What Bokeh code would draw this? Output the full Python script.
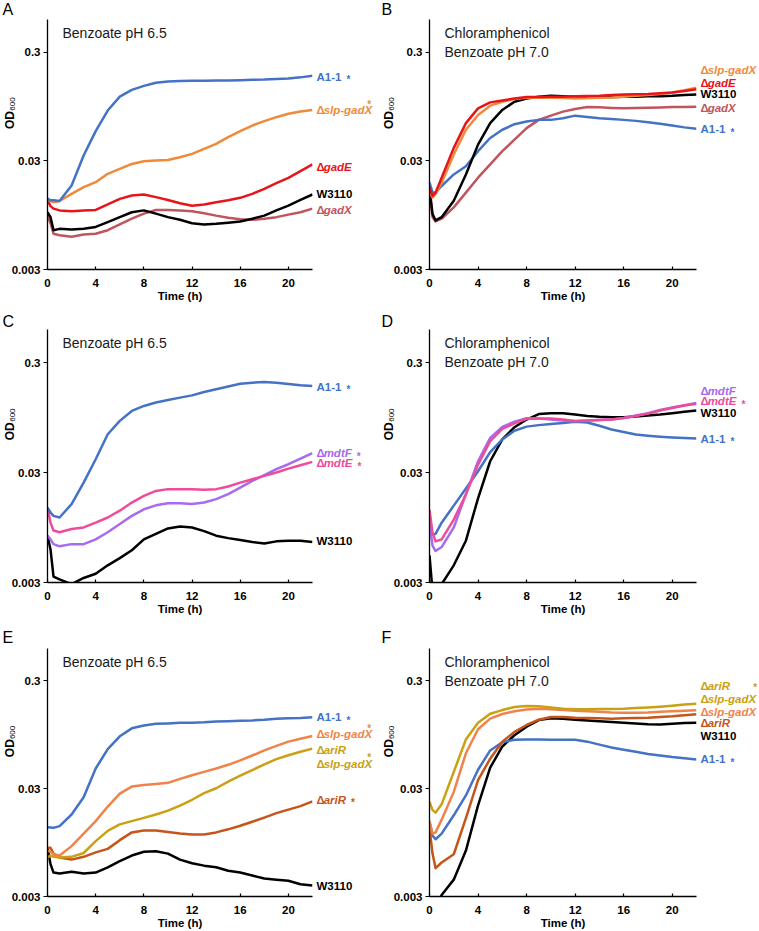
import math
from bokeh.plotting import figure
from bokeh.layouts import gridplot
from bokeh.models import FixedTicker, CustomJSTickFormatter, Range1d
from bokeh.core.properties import value
from bokeh.embed import file_html
from bokeh.resources import INLINE

# ---------------- data (OD600 vs time, h) ----------------
HOURS = [0, 0.25, 0.5, 1, 2, 3, 4, 5, 6, 7, 8, 9, 10, 11, 12, 13, 14, 15, 16, 17, 18, 19, 20, 21, 22]

# Panel A: Benzoate pH 6.5
A_A11 = [0.0135, 0.013, 0.013, 0.0128, 0.0178, 0.0336, 0.0563, 0.0872, 0.117, 0.135, 0.147, 0.157, 0.161,
         0.163, 0.164, 0.164, 0.165, 0.165, 0.166, 0.167, 0.168, 0.170, 0.172, 0.176, 0.182]
A_SLP = [0.0131, 0.0128, 0.0125, 0.0128, 0.0149, 0.0172, 0.0191, 0.0228, 0.0253, 0.0281, 0.0298, 0.0302, 0.0306,
         0.0324, 0.0348, 0.0387, 0.043, 0.0496, 0.0563, 0.0634, 0.0696, 0.0757, 0.0813, 0.0853, 0.0883]
A_GADE = [0.0131, 0.0115, 0.0109, 0.0105, 0.0103, 0.0105, 0.0106, 0.0119, 0.0134, 0.0144, 0.0147, 0.0139, 0.0131,
          0.0122, 0.0116, 0.0119, 0.0125, 0.0130, 0.0137, 0.0149, 0.0166, 0.0187, 0.0209, 0.0241, 0.0278]
A_W3110 = [0.0101, 0.0091, 0.0069, 0.0071, 0.0070, 0.0071, 0.0074, 0.0082, 0.0091, 0.0101, 0.0105, 0.0098, 0.0091,
           0.0086, 0.0080, 0.0078, 0.0079, 0.0081, 0.0083, 0.0088, 0.0094, 0.0105, 0.0116, 0.0131, 0.0147]
A_GADX = [0.0094, 0.0080, 0.0064, 0.0062, 0.0060, 0.0063, 0.0064, 0.0069, 0.0078, 0.0088, 0.0098, 0.0106, 0.0106,
          0.0105, 0.0103, 0.0099, 0.0094, 0.0090, 0.0087, 0.0086, 0.0088, 0.0091, 0.0096, 0.0101, 0.0109]

# Panel B: Chloramphenicol, Benzoate pH 7.0
B_SLP = [0.0153, 0.0138, 0.0148, 0.0189, 0.0343, 0.058, 0.0793, 0.0966, 0.105, 0.111, 0.1143, 0.1143, 0.1143,
         0.1135, 0.1125, 0.113, 0.1143, 0.115, 0.1167, 0.119, 0.121, 0.124, 0.128, 0.134, 0.141]
B_GADE = [0.0170, 0.0143, 0.0153, 0.021, 0.0395, 0.0667, 0.0913, 0.1036, 0.108, 0.1125, 0.1159, 0.1163, 0.1167,
          0.117, 0.118, 0.1185, 0.119, 0.121, 0.1225, 0.123, 0.124, 0.126, 0.128, 0.132, 0.137]
B_W3110 = [0.0170, 0.0097, 0.0085, 0.0091, 0.0129, 0.0225, 0.0423, 0.0667, 0.0882, 0.105, 0.1125, 0.1167, 0.119,
           0.118, 0.1167, 0.116, 0.1159, 0.116, 0.1167, 0.117, 0.1177, 0.118, 0.119, 0.121, 0.1225]
B_GADX = [0.0159, 0.0091, 0.0083, 0.0088, 0.0112, 0.0153, 0.021, 0.0278, 0.0368, 0.047, 0.060, 0.0715, 0.0782,
          0.0852, 0.090, 0.0939, 0.0932, 0.092, 0.0913, 0.092, 0.0926, 0.093, 0.0939, 0.094, 0.0945]
B_A11 = [0.0189, 0.0153, 0.0153, 0.0176, 0.0225, 0.0268, 0.0368, 0.0487, 0.058, 0.0652, 0.069, 0.0715, 0.0715,
         0.074, 0.0782, 0.076, 0.074, 0.0728, 0.0715, 0.070, 0.068, 0.066, 0.0634, 0.061, 0.0592]

# Panel C: Benzoate pH 6.5
C_A11 = [0.0144, 0.013, 0.0121, 0.0117, 0.0155, 0.0243, 0.0396, 0.0669, 0.0885, 0.109, 0.121, 0.130, 0.137,
         0.144, 0.151, 0.162, 0.172, 0.182, 0.193, 0.197, 0.200, 0.197, 0.192, 0.187, 0.184]
C_MDTF = [0.0080, 0.0074, 0.0067, 0.0064, 0.0067, 0.0067, 0.0074, 0.0086, 0.0102, 0.0121, 0.0139, 0.0151, 0.0158,
          0.0158, 0.0155, 0.016, 0.0172, 0.0191, 0.0219, 0.0252, 0.0284, 0.0322, 0.0357, 0.0402, 0.045]
C_MDTE = [0.0144, 0.0105, 0.0089, 0.0086, 0.0092, 0.0095, 0.0105, 0.0117, 0.0135, 0.016, 0.0184, 0.0204, 0.0212,
          0.0212, 0.0212, 0.0209, 0.0212, 0.0224, 0.0243, 0.0261, 0.028, 0.030, 0.0326, 0.035, 0.0375]
C_W3110 = [0.0080, 0.0060, 0.0034, 0.0032, 0.0029, 0.0033, 0.0036, 0.0043, 0.0050, 0.0059, 0.0074, 0.0083, 0.0093,
           0.0097, 0.0095, 0.0088, 0.0080, 0.0076, 0.0073, 0.0070, 0.0068, 0.0071, 0.0072, 0.0072, 0.0070]

# Panel D: Chloramphenicol, Benzoate pH 7.0
D_A11 = [0.0090, 0.0082, 0.0083, 0.0105, 0.0150, 0.0215, 0.0308, 0.046, 0.060, 0.072, 0.0785, 0.081, 0.083,
         0.0845, 0.087, 0.0855, 0.080, 0.0738, 0.070, 0.0665, 0.0648, 0.0635, 0.0625, 0.0618, 0.0611]
D_MDTF = [0.0102, 0.0065, 0.0058, 0.0063, 0.0095, 0.019, 0.038, 0.062, 0.078, 0.087, 0.0935, 0.093, 0.091,
          0.089, 0.088, 0.089, 0.090, 0.0911, 0.094, 0.099, 0.104, 0.111, 0.117, 0.123, 0.129]
D_MDTE = [0.0137, 0.0085, 0.0071, 0.0074, 0.0112, 0.019, 0.0354, 0.058, 0.075, 0.084, 0.0925, 0.0931, 0.0931,
          0.091, 0.0885, 0.089, 0.090, 0.0911, 0.094, 0.098, 0.103, 0.110, 0.116, 0.122, 0.127]
D_W3110 = [0.0053, 0.0025, 0.0022, 0.0029, 0.0043, 0.0072, 0.0175, 0.038, 0.060, 0.0775, 0.091, 0.102, 0.104,
           0.104, 0.101, 0.098, 0.0963, 0.0957, 0.0957, 0.097, 0.0992, 0.101, 0.104, 0.107, 0.110]

# Panel E: Benzoate pH 6.5
E_A11 = [0.0132, 0.0131, 0.013, 0.0135, 0.0173, 0.025, 0.0462, 0.07, 0.092, 0.109, 0.116, 0.120, 0.121,
         0.1225, 0.123, 0.124, 0.126, 0.127, 0.128, 0.129, 0.131, 0.134, 0.135, 0.136, 0.138]
E_SLP = [0.0080, 0.0078, 0.0074, 0.0072, 0.0088, 0.0115, 0.015, 0.0205, 0.027, 0.0314, 0.0325, 0.0332, 0.034,
         0.037, 0.040, 0.043, 0.0462, 0.050, 0.055, 0.061, 0.068, 0.075, 0.082, 0.0873, 0.0925]
E_ARIR_SLP = [0.0069, 0.0072, 0.0070, 0.0069, 0.0070, 0.0076, 0.0098, 0.0122, 0.0140, 0.0150, 0.0161, 0.0173, 0.0188,
              0.0209, 0.0237, 0.0273, 0.0303, 0.0349, 0.0396, 0.0447, 0.0504, 0.0564, 0.0614, 0.066, 0.0707]
E_ARIR = [0.0085, 0.0085, 0.0075, 0.0069, 0.0066, 0.0070, 0.0077, 0.0083, 0.0100, 0.0118, 0.0123, 0.0123, 0.0119,
          0.0115, 0.0113, 0.0113, 0.0118, 0.0126, 0.0136, 0.0148, 0.0162, 0.0178, 0.0192, 0.0207, 0.0229]
E_W3110 = [0.0085, 0.0060, 0.0050, 0.0049, 0.0051, 0.0049, 0.0050, 0.0056, 0.0064, 0.0072, 0.0078, 0.0079, 0.0075,
           0.0066, 0.0061, 0.0058, 0.0056, 0.0052, 0.0050, 0.0047, 0.0044, 0.0043, 0.0042, 0.0039, 0.0038]

# Panel F: Chloramphenicol, Benzoate pH 7.0
F_ARIR_SLP = [0.0227, 0.019, 0.0180, 0.0215, 0.043, 0.086, 0.123, 0.149, 0.161, 0.172, 0.176, 0.175, 0.170,
              0.166, 0.164, 0.164, 0.1645, 0.165, 0.166, 0.168, 0.170, 0.173, 0.177, 0.181, 0.184]
F_SLP = [0.0149, 0.0115, 0.0118, 0.0155, 0.028, 0.064, 0.107, 0.134, 0.148, 0.157, 0.163, 0.166, 0.164,
         0.161, 0.159, 0.157, 0.155, 0.153, 0.152, 0.152, 0.153, 0.155, 0.157, 0.159, 0.160]
F_ARIR = [0.013, 0.0075, 0.0055, 0.0062, 0.0074, 0.016, 0.036, 0.057, 0.082, 0.101, 0.117, 0.131, 0.139,
          0.139, 0.137, 0.136, 0.135, 0.134, 0.135, 0.136, 0.137, 0.139, 0.141, 0.144, 0.147]
F_W3110 = [0.0020, 0.0018, 0.0022, 0.0031, 0.0043, 0.0080, 0.021, 0.047, 0.074, 0.094, 0.113, 0.130, 0.135,
           0.134, 0.131, 0.129, 0.127, 0.125, 0.123, 0.121, 0.119, 0.1186, 0.120, 0.122, 0.123]
F_A11 = [0.0149, 0.0110, 0.0102, 0.0115, 0.017, 0.026, 0.045, 0.068, 0.081, 0.0855, 0.086, 0.0858, 0.0855,
         0.0855, 0.0855, 0.082, 0.077, 0.0725, 0.069, 0.066, 0.063, 0.061, 0.059, 0.0575, 0.056]

X_TICKS = [0, 4, 8, 12, 16, 20]
Y_TICKS = [0.003, 0.03, 0.3]

# ---------------- styles / layout ----------------
BLUE = "#4472C4"
ORANGE = "#EF8A3A"
RED = "#E8141C"
BLACK = "#000000"
MAUVE = "#C0555F"
PURPLE = "#A66BEF"
PINK = "#EE4C9B"
GOLD = "#C9A112"
DARKOR = "#C5561B"
ORANGE_E = "#F0834B"

FONT = "Liberation Sans"
LBL = 11.5
X_MAX = 22
Y_MIN, Y_MAX = 0.003, 0.6
COL_W = [379, 380]
COL_LEFT = [47, 50]
COL_FRAME = [265, 267]
ROW_TOP = [19, 19, 28]
ROW_FRAME = [250, 253, 248]
ROW_BOTTOM = [41, 38, 35]
LETTER_UP = [10, 8, 11]

CHAR_W = {'A': .722, '1': .556, '-': .333, 's': .556, 'l': .278, 'p': .611, 'g': .611, 'a': .556,
          'd': .611, 'X': .667, 'E': .667, 'm': .889, 't': .333, 'F': .611, 'r': .389, 'i': .278,
          'R': .722, 'W': .944, '3': .556, '0': .556, 'Δ': .62, ' ': .278}


def tw(s, size):
    return sum(CHAR_W.get(ch, 0.6) for ch in s) * size


PANELS = [
    dict(letter="A", row=0, col=0, title=["Benzoate pH 6.5"],
         series=[(A_GADX, MAUVE), (A_W3110, BLACK), (A_GADE, RED), (A_SLP, ORANGE), (A_A11, BLUE)],
         labels=[("A1-1", BLUE, 0.179, "right"), ("Δslp-gadX", ORANGE, 0.0873, "sup"),
                 ("ΔgadE", RED, 0.0263, None), ("W3110", BLACK, 0.0149, None), ("ΔgadX", MAUVE, 0.0106, None)]),
    dict(letter="B", row=0, col=1, title=["Chloramphenicol", "Benzoate pH 7.0"],
         series=[(B_GADX, MAUVE), (B_A11, BLUE), (B_W3110, BLACK), (B_SLP, ORANGE), (B_GADE, RED)],
         labels=[("Δslp-gadX", ORANGE, 0.204, None), ("ΔgadE", RED, 0.157, None), ("W3110", BLACK, 0.1225, None),
                 ("ΔgadX", MAUVE, 0.0926, None), ("A1-1", BLUE, 0.0587, "right")]),
    dict(letter="C", row=1, col=0, title=["Benzoate pH 6.5"],
         series=[(C_W3110, BLACK), (C_MDTF, PURPLE), (C_MDTE, PINK), (C_A11, BLUE)],
         labels=[("A1-1", BLUE, 0.181, "right"), ("ΔmdtF", PURPLE, 0.045, "right"),
                 ("ΔmdtE", PINK, 0.0363, "right"), ("W3110", BLACK, 0.0071, None)]),
    dict(letter="D", row=1, col=1, title=["Chloramphenicol", "Benzoate pH 7.0"],
         series=[(D_W3110, BLACK), (D_A11, BLUE), (D_MDTF, PURPLE), (D_MDTE, PINK)],
         labels=[("ΔmdtF", PURPLE, 0.167, None), ("ΔmdtE", PINK, 0.134, "right"),
                 ("W3110", BLACK, 0.1047, None), ("A1-1", BLUE, 0.0607, "right")]),
    dict(letter="E", row=2, col=0, title=["Benzoate pH 6.5"],
         series=[(E_W3110, BLACK), (E_ARIR, DARKOR), (E_ARIR_SLP, GOLD), (E_SLP, ORANGE_E), (E_A11, BLUE)],
         labels=[("A1-1", BLUE, 0.138, "right"), ("Δslp-gadX", ORANGE_E, 0.0963, "sup"),
                 ("ΔariR", GOLD, 0.0686, None), ("Δslp-gadX", GOLD, 0.051, "sup"),
                 ("ΔariR", DARKOR, 0.0238, "right"), ("W3110", BLACK, 0.00378, None)]),
    dict(letter="F", row=2, col=1, title=["Chloramphenicol", "Benzoate pH 7.0"],
         series=[(F_W3110, BLACK), (F_A11, BLUE), (F_ARIR, DARKOR), (F_SLP, ORANGE_E), (F_ARIR_SLP, GOLD)],
         labels=[("ΔariR", GOLD, 0.27, None), ("Δslp-gadX", GOLD, 0.204, "top"),
                 ("Δslp-gadX", ORANGE_E, 0.155, None), ("ΔariR", DARKOR, 0.121, None),
                 ("W3110", BLACK, 0.0916, None), ("A1-1", BLUE, 0.0562, "right")]),
]


def txt(p, x, y, s, color=BLACK, size=LBL, style="bold", align="left", angle=0.0, xoff=0.0):
    p.text(x=[x], y=[y], text=[s], x_offset=xoff, angle=angle,
           text_font=value(FONT), text_font_size=f"{size}px", text_font_style=style,
           text_color=color, text_align=align, text_baseline="middle", level="overlay")


def make_panel(cfg):
    r, c = cfg["row"], cfg["col"]
    top, fh, bottom = ROW_TOP[r], ROW_FRAME[r], ROW_BOTTOM[r]
    left, fw, width = COL_LEFT[c], COL_FRAME[c], COL_W[c]
    dec = fh / math.log10(Y_MAX / Y_MIN)   # px per decade
    pxh = fw / X_MAX                       # px per hour

    def ymove(y, px):
        return y * 10 ** (px / dec)

    p = figure(width=width, height=top + fh + bottom,
               x_range=Range1d(0, X_MAX), y_range=Range1d(Y_MIN, Y_MAX), y_axis_type="log",
               output_backend="svg", toolbar_location=None, tools="",
               min_border_left=left, min_border_right=width - left - fw,
               min_border_top=top, min_border_bottom=bottom)
    p.outline_line_color = None
    p.grid.visible = False
    p.background_fill_color = "white"
    p.border_fill_color = "white"

    for ax in (p.xaxis[0], p.yaxis[0]):
        ax.axis_line_color = BLACK
        ax.axis_line_width = 1.3
        ax.major_tick_line_color = BLACK
        ax.major_tick_line_width = 1.2
        ax.minor_tick_line_color = None
        ax.major_label_text_font = FONT
        ax.major_label_text_font_size = f"{LBL}px"
        ax.major_label_text_font_style = "bold"
        ax.major_label_text_color = BLACK

    xa = p.xaxis[0]
    xa.ticker = FixedTicker(ticks=X_TICKS)
    xa.major_tick_in = 3
    xa.major_tick_out = 0
    xa.major_label_standoff = 9
    xa.axis_label = "Time (h)"
    xa.axis_label_text_font = FONT
    xa.axis_label_text_font_size = f"{LBL}px"
    xa.axis_label_text_font_style = "bold"
    xa.axis_label_text_color = BLACK
    xa.axis_label_standoff = 0

    ya = p.yaxis[0]
    ya.ticker = FixedTicker(ticks=Y_TICKS)
    ya.formatter = CustomJSTickFormatter(code="return tick.toString();")
    ya.major_tick_in = 0
    ya.major_tick_out = 4
    ya.major_label_standoff = 3

    for vals, color in cfg["series"]:
        p.line(HOURS, vals, line_color=color, line_width=2.5, line_join="round")

    # y-axis label OD600 (rotated)
    od_x = (9 - left) / pxh
    txt(p, od_x, 0.0713, "OD", align="center", angle=math.pi / 2, size=12)
    txt(p, od_x, 0.0999, "600", align="center", angle=math.pi / 2, xoff=3, size=8, style="normal")

    # panel letter
    txt(p, (2 - left) / pxh, ymove(Y_MAX, LETTER_UP[r]), cfg["letter"], size=16, style="normal")

    # panel title
    for i, line in enumerate(cfg["title"]):
        txt(p, 15 / pxh, ymove(Y_MAX, -(13 + 19 * i)), line, size=14, style="normal", color="#1a1a1a")

    # end-of-curve labels
    for text, color, y, star in cfg["labels"]:
        off = 4
        if text.startswith("Δ"):
            txt(p, X_MAX, y, "Δ", color=color, xoff=off)
            off2 = off + tw("Δ", LBL)
            txt(p, X_MAX, y, text[1:], color=color, xoff=off2, style="bold italic")
            end = off2 + tw(text[1:], LBL)
        else:
            txt(p, X_MAX, y, text, color=color, xoff=off)
            end = off + tw(text, LBL)
        if star == "right":
            txt(p, X_MAX, ymove(y, -3), "*", color=color, size=10, xoff=end + 5)
        elif star == "sup":
            txt(p, X_MAX, ymove(y, 6), "*", color=color, size=10, xoff=end - 5)
        elif star == "top":
            txt(p, X_MAX, ymove(y, 11), "*", color=color, size=10, xoff=end - 3)
    return p


figs = [make_panel(cfg) for cfg in PANELS]
grid = gridplot([[figs[0], figs[1]], [figs[2], figs[3]], [figs[4], figs[5]]], toolbar_location=None)

open("out.html", "w").write(file_html(grid, INLINE))
